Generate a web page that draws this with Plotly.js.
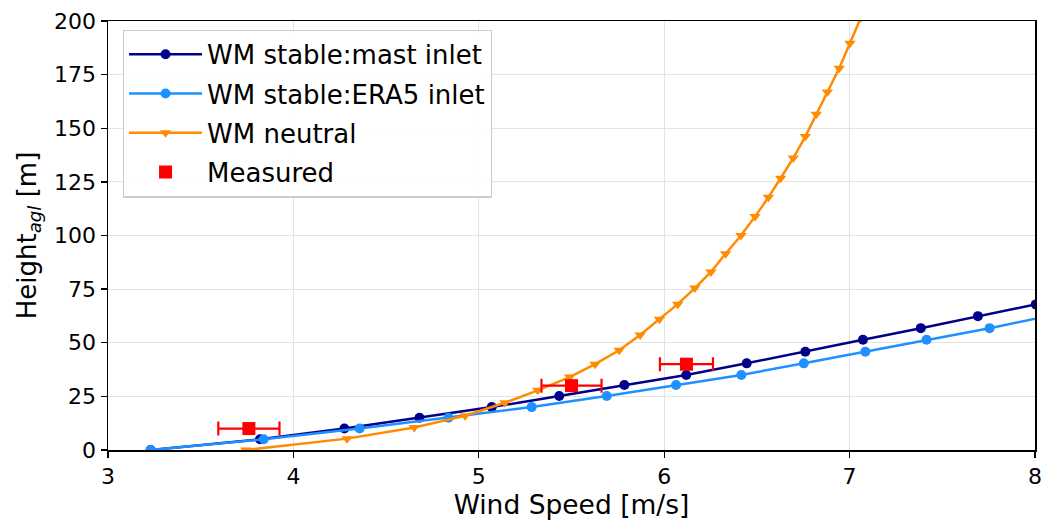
<!DOCTYPE html>
<html>
<head>
<meta charset="utf-8">
<script src="https://cdn.plot.ly/plotly-3.0.1.min.js"></script>
<style>html,body{margin:0;padding:0;background:#fff;}#chart{width:1046px;height:523px;}</style>
</head>
<body>
<div id="chart"></div>
<script>
// Stable, mast inlet
const mastHeight = [0, 5, 10, 15, 20, 25.2, 30.3, 35, 40.4, 45.8, 51.4, 56.8, 62.4, 67.9];
const mastSpeed  = [3.23, 3.82, 4.275, 4.68, 5.07, 5.434, 5.785, 6.119, 6.445, 6.761, 7.072, 7.384, 7.692, 8.004];
// Stable, ERA5 inlet
const era5Height = [0, 5, 10, 15, 20, 25.2, 30.3, 35, 40.4, 45.8, 51.4, 56.8, 62.4];
const era5Speed  = [3.23, 3.84, 4.357, 4.836, 5.285, 5.69, 6.064, 6.416, 6.753, 7.085, 7.415, 7.755, 8.07];
// Neutral
const neutralHeight = [0, 5.3, 10.5, 16, 22, 27.8, 34, 40, 46.5, 53.6, 61, 68, 75.5, 83, 91.5, 100, 108.8, 117.8, 126.7, 136.1, 146.1, 156.5, 166.9, 178, 189.6, 201.5];
const neutralSpeed  = [3.743, 4.289, 4.652, 4.926, 5.141, 5.318, 5.49, 5.627, 5.757, 5.87, 5.974, 6.073, 6.165, 6.252, 6.331, 6.414, 6.49, 6.562, 6.628, 6.696, 6.761, 6.82, 6.88, 6.944, 7.002, 7.06];
// Measured
const measHeight = [10, 30, 40];
const measSpeed  = [3.76, 5.50, 6.12];
const measErr    = [0.165, 0.162, 0.143];

const FONT = 'DejaVu Sans, sans-serif';

const traces = [
  {x: mastSpeed, y: mastHeight, name: 'WM stable:mast inlet', mode: 'lines+markers', legendgroup: 'a',
   line: {color: '#00008b', width: 2.5}, marker: {color: '#00008b', size: 10, symbol: 'circle'}},
  {x: era5Speed, y: era5Height, name: 'WM stable:ERA5 inlet', mode: 'lines+markers', legendgroup: 'b',
   line: {color: '#1e90ff', width: 2.5}, marker: {color: '#1e90ff', size: 10, symbol: 'circle'}},
  {x: neutralSpeed, y: neutralHeight, name: 'WM neutral', mode: 'lines+markers', legendgroup: 'c',
   line: {color: '#ff8c00', width: 2.5}, marker: {color: '#ff8c00', size: 10, symbol: 'triangle-down'}},
  {x: measSpeed, y: measHeight, name: 'Measured', mode: 'markers', legendgroup: 'd',
   marker: {color: '#ff0000', size: 13, symbol: 'square'},
   error_x: {type: 'data', array: measErr, visible: true, color: '#ff0000', thickness: 2.2, width: 7}}
];

const layout = {
  width: 1046, height: 523,
  margin: {l: 108, r: 11, t: 21, b: 73},
  paper_bgcolor: '#fff', plot_bgcolor: '#fff',
  font: {family: FONT, color: '#000', size: 22},
  xaxis: {
    range: [3, 8], tickvals: [3, 4, 5, 6, 7, 8], ticktext: ['3', '4', '5', '6', '7', '8'],
    showgrid: true, gridcolor: '#e3e3e3', gridwidth: 1,
    showline: true, linecolor: '#000', linewidth: 1.5, mirror: true,
    ticks: 'outside', ticklen: 6, tickwidth: 1.3, tickcolor: '#000',
    tickfont: {family: FONT, size: 22},
    zeroline: false,
    title: {text: 'Wind Speed [m/s]', font: {family: FONT, size: 26.5}, standoff: 4}
  },
  yaxis: {
    range: [0, 200], tickvals: [0, 25, 50, 75, 100, 125, 150, 175, 200],
    showgrid: true, gridcolor: '#e3e3e3', gridwidth: 1,
    showline: true, linecolor: '#000', linewidth: 1.5, mirror: true,
    ticks: 'outside', ticklen: 6, tickwidth: 1.3, tickcolor: '#000',
    tickfont: {family: FONT, size: 22},
    zeroline: false,
    title: {text: 'Height<sub><i>agl</i></sub> [m]', font: {family: FONT, size: 26}, standoff: 10}
  },
  showlegend: true,
  legend: {
    x: 0.016, y: 0.98, xanchor: 'left', yanchor: 'top',
    bgcolor: 'rgba(255,255,255,0.9)', bordercolor: '#cccccc', borderwidth: 1.2,
    font: {family: FONT, size: 26}, itemwidth: 73, tracegroupgap: 2.5,
    traceorder: 'grouped'
  }
};

Plotly.newPlot('chart', traces, layout, {displayModeBar: false, staticPlot: true});
</script>
</body>
</html>
